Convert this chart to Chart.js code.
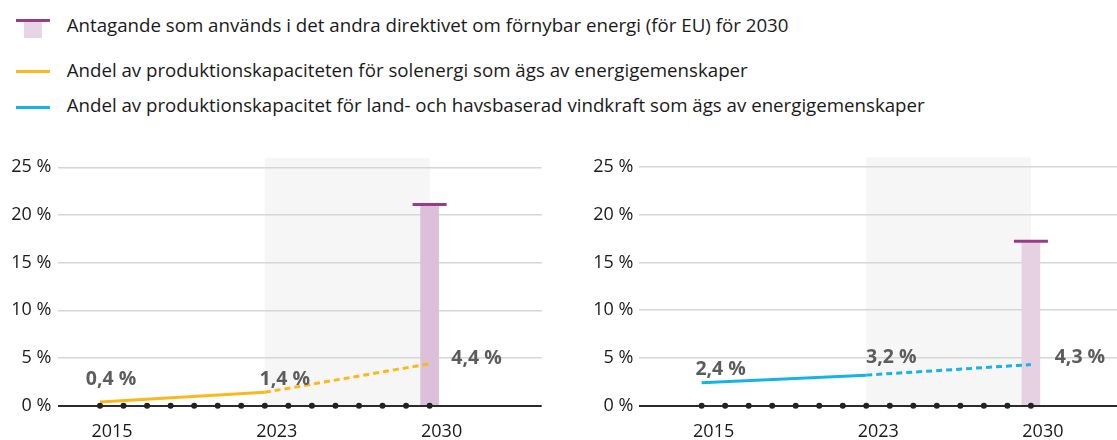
<!DOCTYPE html>
<html>
<head>
<meta charset="utf-8">
<script src="https://cdn.jsdelivr.net/npm/chart.js@4.4.1/dist/chart.umd.min.js"></script>
<style>
  html, body { margin:0; padding:0; background:#fff; }
  body { width:1117px; height:440px; position:relative; overflow:hidden; font-family:"Open Sans", sans-serif; }
  .lg-text { position:absolute; left:66.7px; font-size:18.7px; line-height:18px; color:#1a1a1a; letter-spacing:0; white-space:nowrap; }
  .sw { position:absolute; }
  .panel { position:absolute; top:140px; height:300px; }
</style>
</head>
<body>
<div class="sw" style="left:24px;top:21px;width:18px;height:17px;background:#e7d4e5"></div>
<div class="sw" style="left:16px;top:19px;width:34px;height:3px;background:#983c89"></div>
<div class="lg-text" style="top:16px">Antagande som används i det andra direktivet om förnybar energi (för EU) för 2030</div>
<div class="sw" style="left:16px;top:69.5px;width:34px;height:3px;background:#fbb81b"></div>
<div class="lg-text" style="top:61px">Andel av produktionskapaciteten för solenergi som ägs av energigemenskaper</div>
<div class="sw" style="left:16px;top:105.5px;width:34px;height:3px;background:#17b3e6"></div>
<div class="lg-text" style="top:96px">Andel av produktionskapacitet för land- och havsbaserad vindkraft som ägs av energigemenskaper</div>

<div class="panel" style="left:0;width:545px"><canvas id="c1"></canvas></div>
<div class="panel" style="left:560px;width:557px"><canvas id="c2"></canvas></div>

<script>
// ---- data ----
const categories = ['2015','','','','','','','2023','','','','','','','2030'];
const baseline   = [0,0,0,0,0,0,0,0,0,0,0,0,0,0,0];
const solarShare = [0.4,null,null,null,null,null,null,1.4,null,null,null,null,null,null,4.4];
const windShare  = [2.4,null,null,null,null,null,null,3.2,null,null,null,null,null,null,4.3];
const solarTarget2030 = 21.1;
const windTarget2030  = 17.2;
const solarLabels = ['0,4 %','1,4 %','4,4 %'];
const windLabels  = ['2,4 %','3,2 %','4,3 %'];
const yTicks = [0,5,10,15,20,25];

// ---- helpers ----
const toXY = arr => arr.map((v,i) => v == null ? null : {x:i, y:v}).filter(Boolean);
const tickIdx = categories.map((c,i) => c ? i : null).filter(v => v !== null);
const midIdx = categories.indexOf('2023');
const endIdx = categories.indexOf('2030');

Chart.defaults.font.family = '"Open Sans", sans-serif';

function makeChart(id, o) {
  const shade = {
    id: 'shade',
    beforeDraw(chart) {
      const {ctx, chartArea, scales:{x, y}} = chart;
      const x0 = x.getPixelForValue(midIdx), x1 = x.getPixelForValue(endIdx);
      ctx.save();
      ctx.fillStyle = '#f6f6f6';
      ctx.fillRect(x0, chartArea.top, x1 - x0, y.getPixelForValue(0) - chartArea.top);
      ctx.restore();
    }
  };
  const valueLabels = {
    id: 'valueLabels',
    afterDatasetsDraw(chart) {
      const meta = chart.getDatasetMeta(1);
      const ctx = chart.ctx;
      ctx.save();
      ctx.font = 'bold 19.5px "Open Sans", sans-serif';
      ctx.fillStyle = '#5b5c5e';
      ctx.textAlign = 'center';
      ctx.textBaseline = 'middle';
      meta.data.forEach((el, i) => {
        const off = o.labelOffsets[i];
        ctx.fillText(o.labels[i], el.x + off[0], el.y + off[1]);
      });
      ctx.restore();
    }
  };
  const target = [{x:endIdx, y:o.target}];
  return new Chart(document.getElementById(id), {
    type: 'line',
    data: {
      datasets: [
        { type:'line', data: toXY(baseline), showLine:false, pointRadius:3, pointHoverRadius:3,
          pointBackgroundColor:'#222', pointBorderWidth:0, clip:false, order:0 },
        { type:'line', data: toXY(o.values), borderColor:o.color, borderWidth:3, pointRadius:0,
          tension:0, spanGaps:true, fill:false, clip:false, order:1,
          segment: { borderDash: ctx => ctx.p0.parsed.x >= midIdx ? [6,4] : undefined } },
        { type:'line', data: target, showLine:false, pointStyle:'line', pointRadius:17, pointHoverRadius:17,
          pointBorderWidth:3, pointBorderColor:'#983c89', clip:false, order:2 },
        { type:'bar', data: target, barThickness:18, backgroundColor:o.barColor, borderWidth:0, order:3 }
      ]
    },
    options: {
      responsive:true, maintainAspectRatio:false, animation:false,
      layout: { padding: o.padding, autoPadding:false },
      plugins: { legend:{display:false}, tooltip:{enabled:false} },
      scales: {
        x: {
          type:'linear', min:o.xmin, max:o.xmax, offset:false,
          grid:{ display:false, drawTicks:false },
          border:{ display:false },
          afterBuildTicks: s => { s.ticks = tickIdx.map(v => ({value:v})); },
          afterFit: s => { s.height = 34.3; },
          ticks:{ autoSkip:false, maxRotation:0, padding:15, labelOffset:12,
                  color:'#1a1a1a', font:{size:18}, callback: v => categories[v] }
        },
        y: {
          min:0, max:26,
          grid:{ drawTicks:false,
                 color: c => c.tick && c.tick.value === 0 ? '#2b2b2b' : '#d6d6d6',
                 lineWidth: c => c.tick && c.tick.value === 0 ? 2 : 1.5 },
          border:{ display:false },
          afterBuildTicks: s => { s.ticks = yTicks.map(v => ({value:v})); },
          afterFit: s => { s.width = o.yWidth; },
          ticks:{ padding:o.yPad, color:'#1a1a1a', font:{size:18}, callback: v => v + ' %' }
        }
      }
    },
    plugins: [shade, valueLabels]
  });
}

makeChart('c1', {
  values: solarShare, color:'#fbb81b', target: solarTarget2030, labels: solarLabels,
  barColor:'#dcbfd8',
  xmin:-1.77, xmax:18.76, yWidth:58.3, yPad:7,
  padding:{top:17.3, right:3.3, bottom:0, left:0},
  labelOffsets:[[11,-22],[20,-13],[47,-5]]
});
makeChart('c2', {
  values: windShare, color:'#17b3e6', target: windTarget2030, labels: windLabels,
  barColor:'#e5d1e2',
  xmin:-2.65, xmax:17.66, yWidth:79.3, yPad:6,
  padding:{top:17.3, right:0, bottom:0, left:0},
  labelOffsets:[[19,-13],[25,-18],[49,-7]]
});
</script>
</body>
</html>
